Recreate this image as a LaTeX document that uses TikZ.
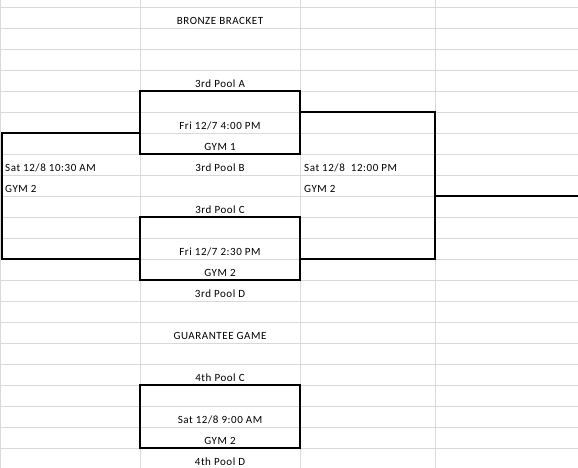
\documentclass[tikz,border=0pt]{standalone}
\usepackage{fontspec}
\setmainfont{Carlito}[LetterSpace=5]
\begin{document}
\begin{tikzpicture}[x=1pt,y=-1pt,
  grid/.style={draw=black!15,line width=0.9pt},
  bold/.style={draw=black,line width=2pt},
  cell/.style={anchor=base,inner sep=0pt,font=\fontsize{11}{13}\selectfont},
  lcell/.style={cell,anchor=base west}]
\useasboundingbox (0,0) rectangle (578,468);
\fill[white] (0,0) rectangle (578,468);
% grid
\foreach \i in {0,...,21} {\draw[grid] (0,7.3+21*\i) -- (578,7.3+21*\i);}
\foreach \x in {0.5,140,300,435} {\draw[grid] (\x,0) -- (\x,468);}
% texts (baseline 4 above bottom line of cell)
\node[cell] (title) at (220,24.3) {BRONZE BRACKET};
\node[cell] (pa) at (220,87.3) {3rd Pool A};
\node[cell] (t1) at (220,129.3) {Fri 12/7 4:00 PM};
\node[cell] (g1) at (220,150.3) {GYM 1};
\node[lcell] (t3) at (5,171.3) {Sat 12/8 10:30 AM};
\node[cell] (pb) at (220,171.3) {3rd Pool B};
\node[lcell] (t4) at (304,171.3) {Sat 12/8\ \ 12:00 PM};
\node[lcell] (g3) at (5,192.3) {GYM 2};
\node[lcell] (g4) at (304,192.3) {GYM 2};
\node[cell] (pc) at (220,213.3) {3rd Pool C};
\node[cell] (t2) at (220,255.3) {Fri 12/7 2:30 PM};
\node[cell] (g2) at (220,276.3) {GYM 2};
\node[cell] (pd) at (220,297.3) {3rd Pool D};
\node[cell] (title2) at (220,339.3) {GUARANTEE GAME};
\node[cell] (qc) at (220,381.3) {4th Pool C};
\node[cell] (t5) at (220,423.3) {Sat 12/8 9:00 AM};
\node[cell] (g5) at (220,444.3) {GYM 2};
\node[cell] (qd) at (220,465.3) {4th Pool D};
% bracket coordinates
\coordinate (m1a) at (140,91.3);  \coordinate (m1b) at (300,154.3);
\coordinate (m2a) at (140,217.3); \coordinate (m2b) at (300,280.3);
\coordinate (m5a) at (140,385.3); \coordinate (m5b) at (300,448.3);
\coordinate (l1) at (140,133.3);  \coordinate (l2) at (140,259.3);
\coordinate (r1) at (300,112.3);  \coordinate (r2) at (300,259.3);
\coordinate (f1) at (435,196.3);  \coordinate (f2) at (578,196.3);
\draw[bold] (m1a) rectangle (m1b);
\draw[bold] (m2a) rectangle (m2b);
\draw[bold] (m5a) rectangle (m5b);
\draw[bold] (l1) -- (1.5,133.3) -- (1.5,259.3) -- (l2);
\draw[bold] (r1) -- (435,112.3) -- (435,259.3) -- (r2);
\draw[bold] (f1) -- (f2);
\end{tikzpicture}
\end{document}
